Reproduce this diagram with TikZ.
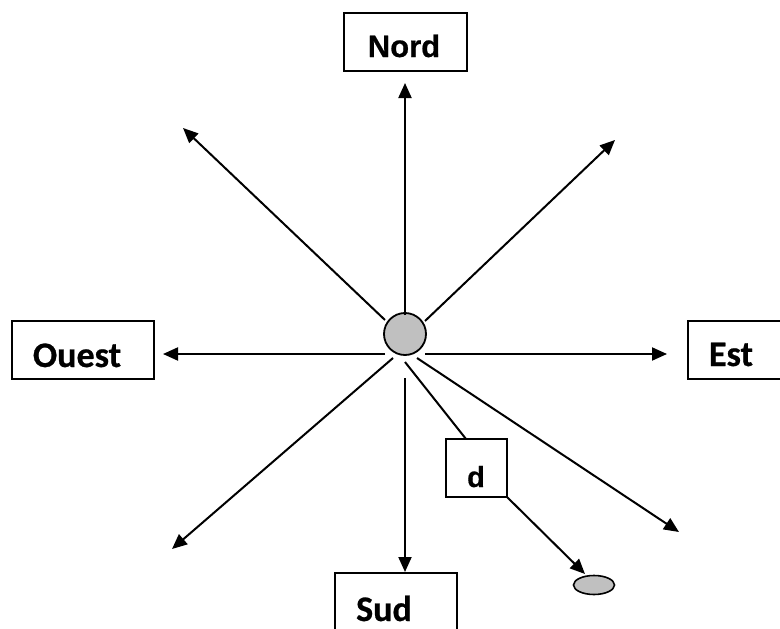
\documentclass[tikz,border=0pt]{standalone}
\usepackage{fontspec}
\newfontfamily\arialfont{Liberation Sans}[UprightFont={* Bold},BoldFont={* Bold},FakeBold=0.6]
\newfontfamily\calibfont{Carlito}[UprightFont={* Bold},BoldFont={* Bold},FakeBold=0.6]
\usetikzlibrary{arrows.meta,shapes.geometric}
\definecolor{dotgray}{RGB}{192,192,192}
\begin{document}
\begin{tikzpicture}[x=1pt,y=-1pt,
  ray/.style={line width=2pt,-{Triangle[length=15pt,width=13pt]}},
  plainray/.style={line width=2pt},
  boxnode/.style={draw,line width=2pt,rectangle,inner sep=0pt,fill=white},
  alab/.style={font=\arialfont\fontsize{31}{31}\selectfont,anchor=base,inner sep=0pt},
  clab/.style={font=\calibfont\fontsize{36}{36}\selectfont,anchor=base,inner sep=0pt},
  dlab/.style={font=\arialfont\fontsize{29}{29}\selectfont,anchor=base,inner sep=0pt}]
\useasboundingbox (0,0) rectangle (780,629);
% boxes
\node[boxnode,minimum width=123pt,minimum height=58pt] (nordbox) at (405.5,42) {};
\node[alab] (nord) at (404,57) {Nord};
\node[boxnode,minimum width=142pt,minimum height=58pt] (ouestbox) at (83,350) {};
\node[clab] (ouest) at (77,367) {Ouest};
\node[boxnode,minimum width=112pt,minimum height=58pt] (estbox) at (744,350) {};
\node[clab] (est) at (731,366) {Est};
\node[boxnode,minimum width=122pt,minimum height=70pt] (sudbox) at (396,608) {};
\node[clab] (sud) at (384,621) {Sud};
\node[boxnode,minimum width=61pt,minimum height=58pt] (dbox) at (476.5,468) {};
\node[dlab] (d) at (476,487) {d};
% centre and target
\node[circle,draw,line width=1.8pt,fill=dotgray,minimum size=42pt,inner sep=0pt] (centre) at (405,334) {};
\node[ellipse,draw,line width=1.6pt,fill=dotgray,minimum width=41pt,minimum height=19pt,inner sep=0pt] (target) at (594,585) {};
% ray start points
\coordinate (sN) at (405,315);
\coordinate (sNE) at (425,321);
\coordinate (sNW) at (385,320);
\coordinate (sW) at (385,354);
\coordinate (sE) at (425,354);
\coordinate (sSW) at (393,358);
\coordinate (sS) at (405,378);
\coordinate (sSE) at (417,358);
\coordinate (sD) at (405,362);
% ray tips
\coordinate (tN) at (405,83);
\coordinate (tNE) at (615,140);
\coordinate (tNW) at (183,128);
\coordinate (tW) at (163,354);
\coordinate (tE) at (667,354);
\coordinate (tSW) at (172,549);
\coordinate (tS) at (405,572);
\coordinate (tSE) at (679,532);
\coordinate (dtop) at (466,439);
\coordinate (dcorner) at (507,497);
\coordinate (ttarget) at (585,574);
% rays
\draw[ray] (sN) -- (tN);
\draw[ray] (sNE) -- (tNE);
\draw[ray] (sNW) -- (tNW);
\draw[ray] (sW) -- (tW);
\draw[ray] (sE) -- (tE);
\draw[ray] (sSW) -- (tSW);
\draw[ray] (sS) -- (tS);
\draw[ray] (sSE) -- (tSE);
\draw[plainray] (sD) -- (dtop);
\draw[ray] (dcorner) -- (ttarget);
\end{tikzpicture}
\end{document}
